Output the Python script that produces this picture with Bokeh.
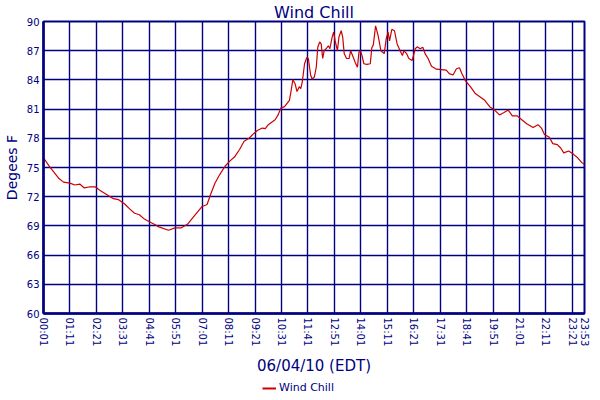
from bokeh.plotting import figure
from bokeh.layouts import column
from bokeh.models import FixedTicker, Range1d, Legend, LegendItem
from bokeh.embed import file_html
from bokeh.resources import INLINE

# minutes after midnight (06/04/10, EDT)
minutes = [1, 16, 41, 54, 71, 84, 97, 109, 122, 139, 152, 169, 186, 199, 216, 229,
           242, 255, 268, 280, 298, 306, 332, 349, 366, 383, 404, 421, 434, 443,
           455, 468, 481, 494, 507, 520, 532, 545, 558, 567, 580, 588, 596, 614,
           622, 629, 639, 652, 656, 661, 667, 672, 678, 682, 686, 692, 698, 702,
           708, 712, 718, 723, 727, 732, 736, 740, 744, 749, 755, 759, 765, 769,
           773, 779, 783, 789, 793, 797, 803, 810, 814, 819, 826, 832, 836, 840,
           844, 849, 857, 866, 870, 874, 880, 887, 894, 903, 908, 913, 917, 923,
           930, 937, 945, 951, 955, 962, 968, 977, 985, 990, 998, 1005, 1011,
           1019, 1028, 1041, 1054, 1067, 1075, 1085, 1094, 1102, 1109, 1118, 1131,
           1144, 1156, 1169, 1182, 1195, 1208, 1220, 1231, 1242, 1255, 1267, 1280,
           1297, 1310, 1319, 1327, 1340, 1349, 1361, 1370, 1378, 1391, 1404, 1415,
           1426, 1433]
wind_chill = [76.0, 75.15, 73.9, 73.5, 73.4, 73.2, 73.3, 72.9, 73.0, 73.0, 72.6,
              72.2, 71.8, 71.7, 71.25, 70.75, 70.3, 70.15, 69.7, 69.45, 69.1, 68.9,
              68.55, 68.8, 68.8, 69.2, 70.2, 71.0, 71.2, 72.2, 73.4, 74.3, 75.1,
              75.65, 76.1, 76.85, 77.7, 78.0, 78.5, 78.8, 79.05, 79.0, 79.4, 79.9,
              80.4, 81.1, 81.25, 81.9, 82.8, 84.0, 83.6, 82.8, 83.3, 83.1, 83.8,
              85.66, 86.3, 86.2, 84.5, 84.1, 84.3, 85.3, 87.35, 87.9, 87.7, 86.2,
              87.0, 87.2, 87.5, 87.2, 88.4, 88.9, 88.0, 87.0, 88.4, 89.05, 88.4,
              86.7, 86.2, 86.2, 87.0, 86.5, 85.8, 85.3, 86.85, 87.0, 86.5, 85.66,
              85.6, 85.66, 87.3, 87.6, 89.55, 88.5, 87.0, 86.7, 88.2, 88.9, 88.0,
              89.2, 89.05, 87.7, 87.0, 86.5, 87.0, 86.7, 86.2, 86.0, 87.2, 87.4,
              87.2, 87.35, 86.7, 86.2, 85.4, 85.1, 85.05, 85.0, 84.65, 84.5, 85.15,
              85.25, 84.6, 83.9, 83.3, 82.6, 82.27, 81.9, 81.25, 80.9, 80.4, 80.65,
              80.9, 80.3, 80.3, 79.9, 79.5, 79.1, 79.4, 79.05, 78.4, 78.1, 77.45,
              77.35, 77.0, 76.5, 76.7, 76.35, 76.0, 75.5, 75.3]

x_tick_minutes = [1, 71, 141, 211, 281, 351, 421, 491, 561, 631, 701, 771, 841,
                  911, 981, 1051, 1121, 1191, 1261, 1331, 1401, 1433]
x_tick_labels = ["00:01", "01:11", "02:21", "03:31", "04:41", "05:51", "07:01",
                 "08:11", "09:21", "10:31", "11:41", "12:51", "14:01", "15:11",
                 "16:21", "17:31", "18:41", "19:51", "21:01", "22:11", "23:21",
                 "23:53"]
y_ticks = [60, 63, 66, 69, 72, 75, 78, 81, 84, 87, 90]
series_name = "Wind Chill"

NAVY = "#000080"
RED = "#cc0000"
FONT = "DejaVu Sans"

p = figure(frame_width=541, frame_height=292, output_backend="svg",
           toolbar_location=None,
           x_range=Range1d(x_tick_minutes[0], x_tick_minutes[-1]),
           y_range=Range1d(y_ticks[0], y_ticks[-1]),
           title="Wind Chill")
p.min_border_left = 10
p.min_border_right = 7
p.min_border_top = 4
p.min_border_bottom = 0

p.title.align = "center"
p.title.text_color = NAVY
p.title.text_font = FONT
p.title.text_font_size = "16px"
p.title.text_font_style = "normal"
p.title.standoff = 0
p.title.offset = 0

p.xaxis.ticker = FixedTicker(ticks=x_tick_minutes)
p.xaxis.major_label_overrides = {m: l for m, l in zip(x_tick_minutes, x_tick_labels)}
p.xaxis.major_label_orientation = "vertical"
p.yaxis.ticker = FixedTicker(ticks=y_ticks)
p.xgrid.ticker = FixedTicker(ticks=x_tick_minutes)
p.ygrid.ticker = FixedTicker(ticks=y_ticks)

p.xaxis.axis_label = "06/04/10 (EDT)"
p.yaxis.axis_label = "Degees F"

for ax in (p.xaxis, p.yaxis):
    ax.axis_line_color = NAVY
    ax.axis_line_width = 2.5
    ax.major_tick_in = 0
    ax.major_tick_out = 0
    ax.minor_tick_in = 0
    ax.minor_tick_out = 0
    ax.major_label_text_color = NAVY
    ax.major_label_text_font = FONT
    ax.major_label_text_font_size = "10px"
    ax.major_label_standoff = 4
    ax.axis_label_text_color = NAVY
    ax.axis_label_text_font = FONT
    ax.axis_label_text_font_style = "normal"
    ax.axis_label_standoff = 4
p.xaxis.axis_label_standoff = 8
p.xaxis.axis_label_text_font_size = "15px"
p.yaxis.axis_label_text_font_size = "14px"

for g in (p.xgrid, p.ygrid):
    g.grid_line_color = NAVY
    g.grid_line_width = 1.4
    g.grid_line_alpha = 1.0

p.outline_line_color = NAVY
p.outline_line_width = 2
p.background_fill_color = "white"
p.border_fill_color = "white"

p.line(minutes, wind_chill, line_color=RED, line_width=1.2)

# legend strip below the chart (its series lies outside this strip's ranges)
leg = figure(width=583, height=19, output_backend="svg", toolbar_location=None,
             x_range=Range1d(0, 1), y_range=Range1d(0, 1), min_border=0)
leg.axis.visible = False
leg.grid.visible = False
leg.outline_line_color = None
leg.background_fill_color = "white"
leg.border_fill_color = "white"
lr = leg.line(minutes, wind_chill, line_color=RED, line_width=2)
legend = Legend(items=[LegendItem(label=series_name, renderers=[lr])],
                orientation="horizontal", location=(219, 3))
legend.label_text_font = FONT
legend.label_text_font_size = "11px"
legend.label_text_color = NAVY
legend.glyph_width = 14
legend.glyph_height = 12
legend.label_height = 12
legend.label_standoff = 3
legend.padding = 0
legend.margin = 0
legend.border_line_alpha = 0
legend.background_fill_alpha = 0
leg.add_layout(legend, "center")

layout = column(p, leg, spacing=0)

open("out.html", "w").write(file_html(layout, INLINE))
